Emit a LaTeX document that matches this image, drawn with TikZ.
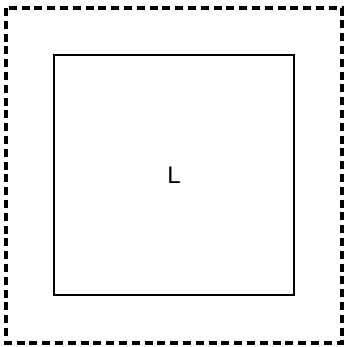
\documentclass[tikz,border=0pt]{standalone}
\usepackage{fontspec}
\setmainfont{Liberation Sans}
\usepackage{tikz}
\usetikzlibrary{positioning}

\begin{document}
\begin{tikzpicture}[
            x=0.75pt, y=-0.75pt,
            frame/.style={draw, line width=2.7pt,
                    dash pattern=on 6pt off 3.6pt},
            box/.style={draw, line width=2.2pt},
            lbl/.style={font=\fontsize{18}{20}\selectfont}]
        \useasboundingbox (0,0) rectangle (346,347);
        \draw[frame] (6,8) rectangle (342,343);
        \draw[box] (54,55) rectangle (294,295);
        \node[lbl] (lab) at (174,175) {L};
    \end{tikzpicture}
\end{document}
